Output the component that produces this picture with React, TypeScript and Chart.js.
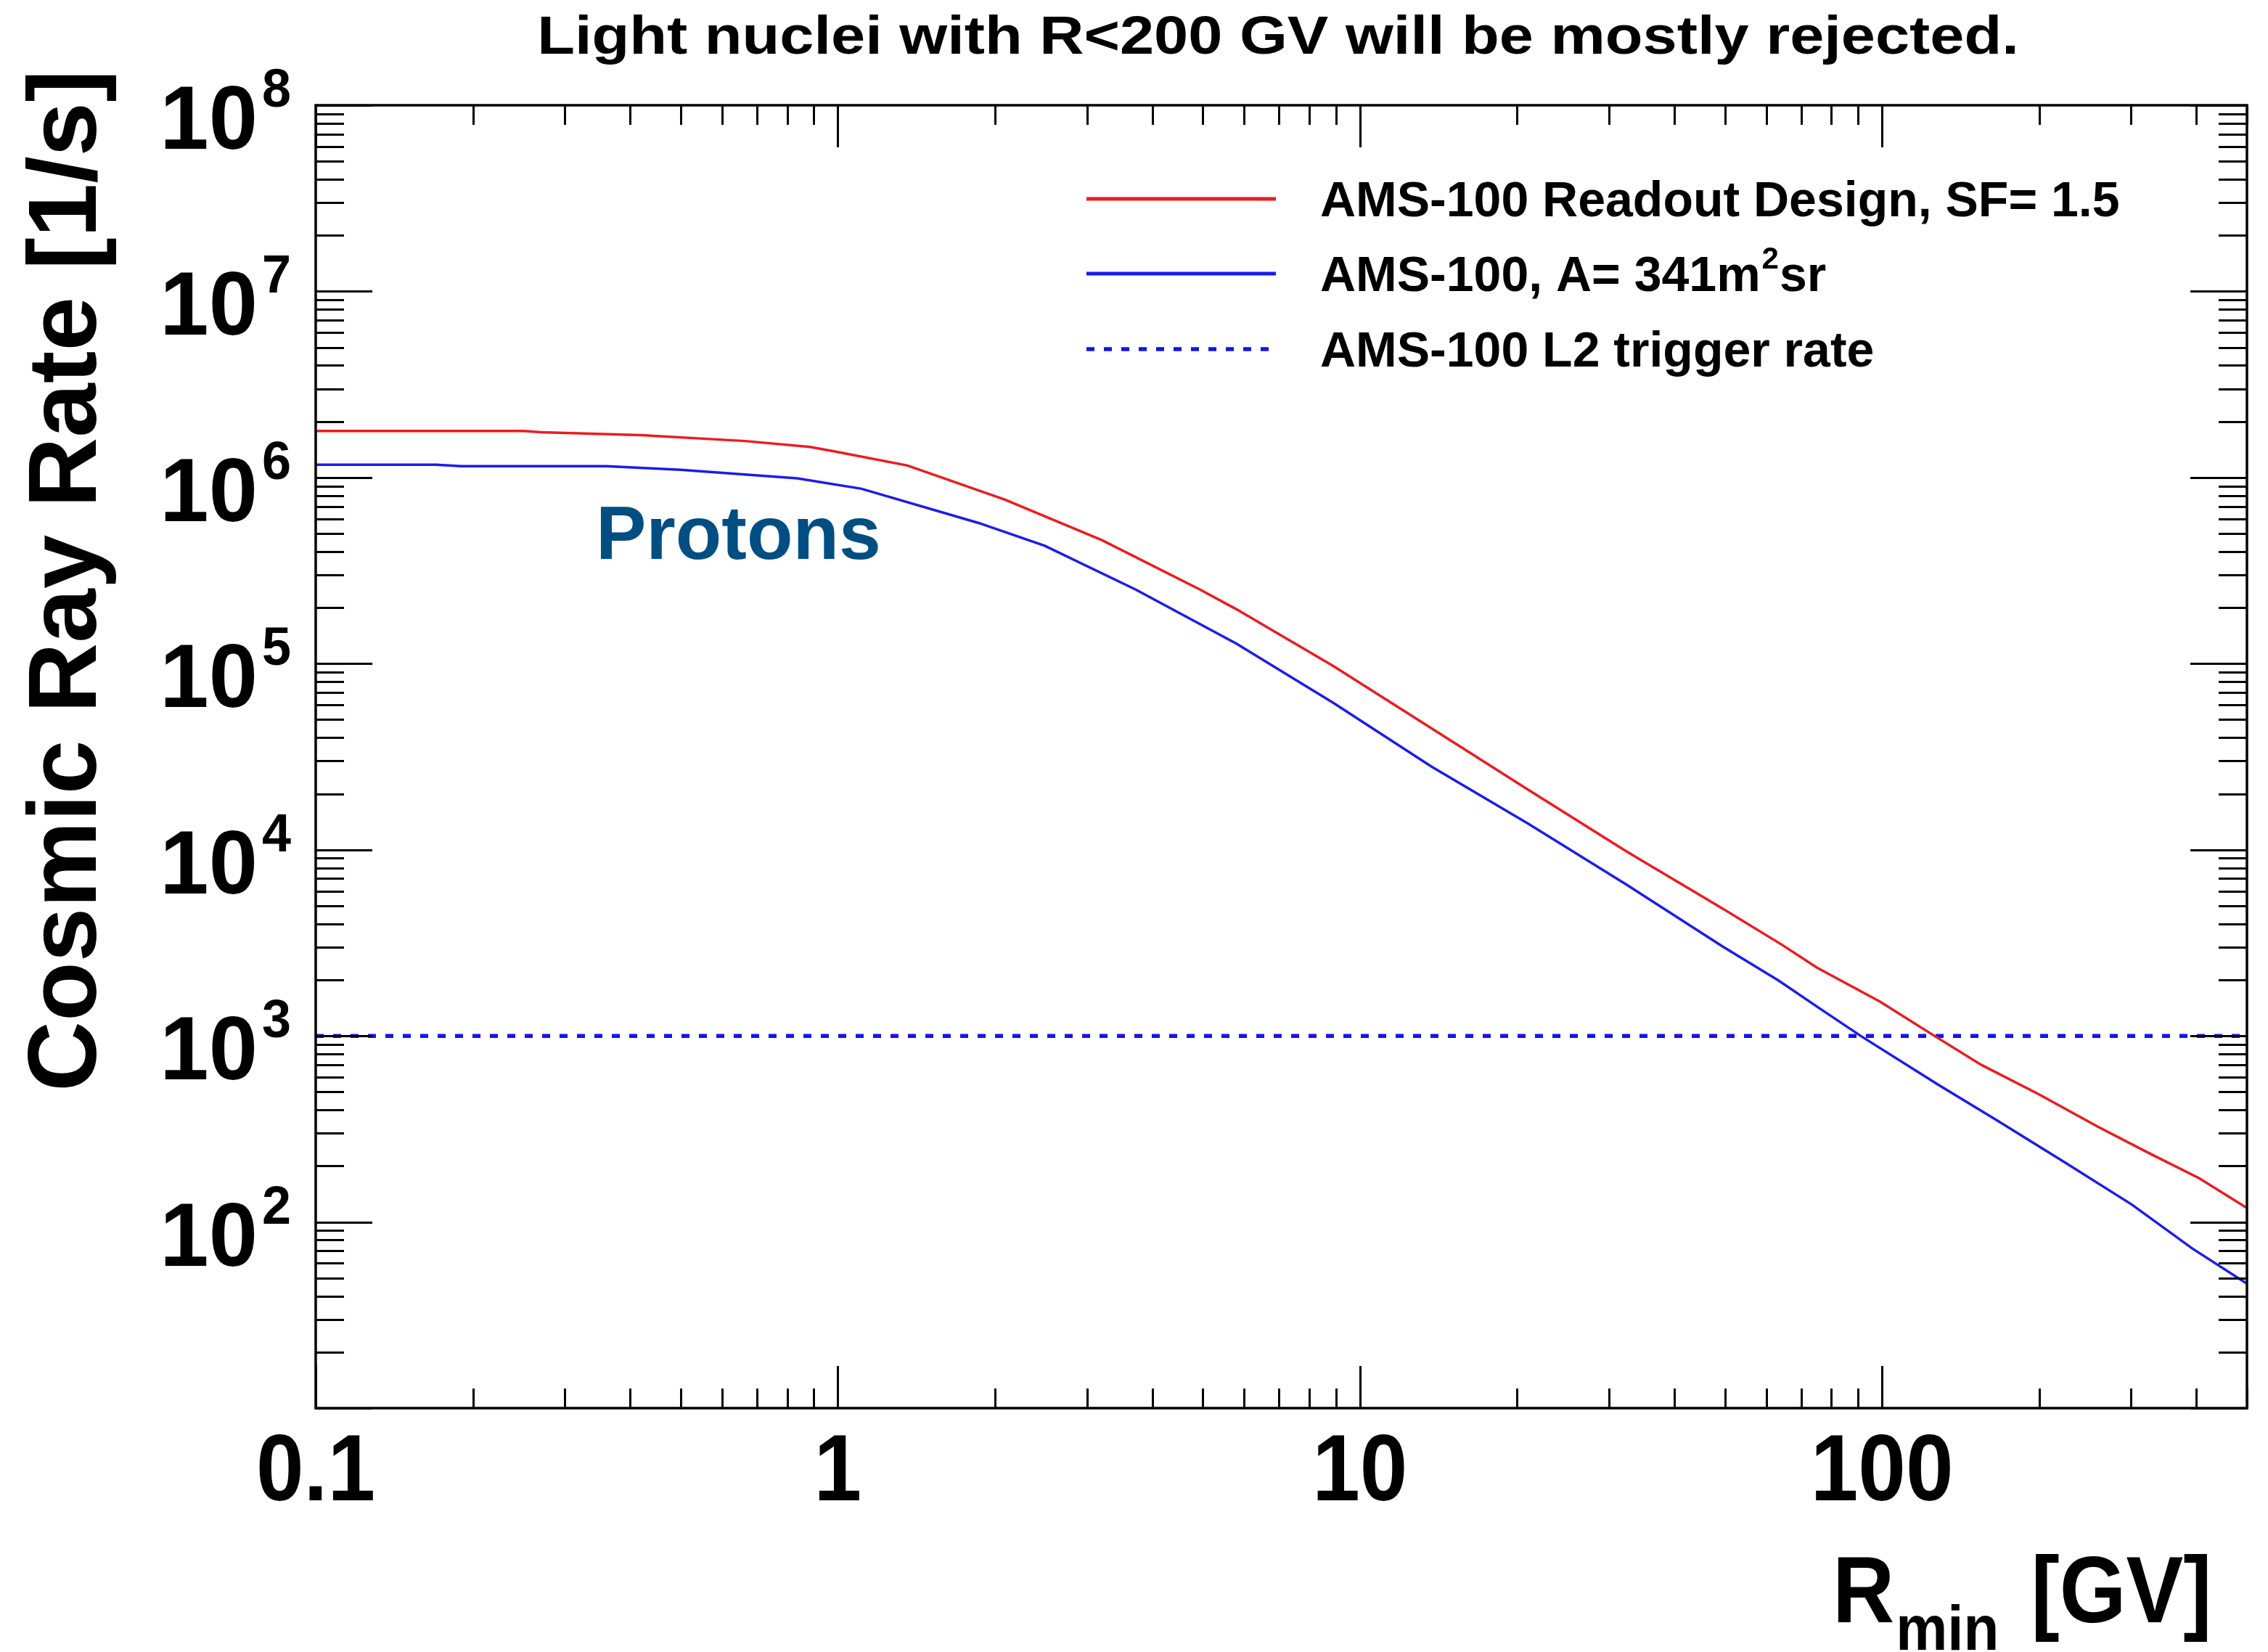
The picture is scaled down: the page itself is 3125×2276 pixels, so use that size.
import React, { useEffect, useRef } from "react";
import { Chart, registerables } from "chart.js";

Chart.register(...registerables);

// Rigidity cut-off [GV] and integrated rate [1/s] for the readout design (SF = 1.5)
const READOUT_RIGIDITY = [
  0.1, 0.25, 0.27, 0.42, 0.665, 0.885, 1.0, 1.36, 2.09, 3.21, 4.94, 5.8, 8.9, 13.7, 21, 32.4,
  49.7, 64.4, 75, 99, 126, 155, 199, 259, 324, 405, 500,
];
const READOUT_RATE = [
  1.78e6, 1.78e6, 1.75e6, 1.69e6, 1.57e6, 1.46e6, 1.37e6, 1.16e6, 7.6e5, 4.6e5, 2.5e5, 1.96e5,
  9.7e4, 4.5e4, 2.1e4, 9.8e3, 4.8e3, 3.08e3, 2.33e3, 1.53e3, 1.0e3, 698, 488, 325, 235, 172, 119,
];

// Rigidity cut-off [GV] and rate [1/s] for the bare acceptance A = 341 m^2 sr
const ACCEPTANCE_RIGIDITY = [
  0.1, 0.17, 0.19, 0.36, 0.5, 0.836, 1.11, 1.86, 2.49, 3.72, 5.8, 8.9, 13.7, 21, 32.4, 49.7, 63.4,
  75.8, 91, 128, 166, 224, 301, 393, 500,
];
const ACCEPTANCE_RATE = [
  1.17e6, 1.17e6, 1.15e6, 1.15e6, 1.1e6, 9.9e5, 8.7e5, 5.7e5, 4.3e5, 2.5e5, 1.28e5, 6.15e4, 2.8e4,
  1.38e4, 6.5e3, 3.0e3, 1.98e3, 1.41e3, 1.0e3, 547, 352, 209, 124, 72, 46.6,
];

// Level-2 trigger rate limit [1/s]
const TRIGGER_RIGIDITY = [0.1, 500];
const TRIGGER_RATE = [1000, 1000];

const SERIES_LABELS = [
  "AMS-100 Readout Design, SF= 1.5",
  "AMS-100, A= 341m²sr",
  "AMS-100 L2 trigger rate",
];

const X_MIN = 0.1;
const X_MAX = 500;
const Y_MIN = 10;
const Y_MAX = 1e8;
const X_TICK_VALUES = [0.1, 1, 10, 100];
const X_TICK_LABELS = ["0.1", "1", "10", "100"];
const Y_TICK_EXPONENTS = [2, 3, 4, 5, 6, 7, 8];

const TITLE = "Light nuclei with R<200 GV will be mostly rejected.";
const Y_TITLE = "Cosmic Ray Rate [1/s]";
const X_TITLE_MAIN = "R";
const X_TITLE_SUB = "min";
const X_TITLE_UNIT = "[GV]";
const ANNOTATION = "Protons";

const RED = "rgb(236, 28, 32)";
const BLUE = "rgb(28, 28, 236)";
const FONT = '"Liberation Sans", Arial, Helvetica, sans-serif';

type Seg = { text: string; size: number; dy?: number; gap?: number; sx?: number; sy?: number };

function drawSegs(
  ctx: CanvasRenderingContext2D,
  segs: Seg[],
  x: number,
  y: number,
  align: "left" | "right" | "center",
  color = "#000"
) {
  const widths = segs.map((s) => {
    ctx.font = `bold ${s.size}px ${FONT}`;
    return ctx.measureText(s.text).width * (s.sx ?? 1) + (s.gap ?? 0);
  });
  const total = widths.reduce((a, b) => a + b, 0);
  let cx = align === "left" ? x : align === "right" ? x - total : x - total / 2;
  segs.forEach((s, i) => {
    ctx.save();
    ctx.font = `bold ${s.size}px ${FONT}`;
    ctx.textAlign = "left";
    ctx.textBaseline = "alphabetic";
    ctx.fillStyle = color;
    ctx.translate(cx + (s.gap ?? 0), y + (s.dy ?? 0));
    ctx.scale(s.sx ?? 1, s.sy ?? 1);
    ctx.fillText(s.text, 0, 0);
    ctx.restore();
    cx += widths[i];
  });
}

const rootFramePlugin = {
  id: "rootFrame",
  afterDraw(chart: any) {
    const { ctx, chartArea: a, scales } = chart;
    const xs = scales.x;
    const ys = scales.y;
    ctx.save();

    // ticks on all four sides, pointing inwards
    ctx.strokeStyle = "#000";
    ctx.lineWidth = 3;
    ctx.beginPath();
    for (let e = -1; e <= 2; e++) {
      for (let m = 1; m <= 9; m++) {
        const v = m * Math.pow(10, e);
        if (v < X_MIN - 1e-9 || v > X_MAX + 1e-9) continue;
        const px = Math.round(xs.getPixelForValue(v)) + 0.5;
        const len = m === 1 ? 58 : 27;
        ctx.moveTo(px, a.bottom);
        ctx.lineTo(px, a.bottom - len);
        ctx.moveTo(px, a.top);
        ctx.lineTo(px, a.top + len);
      }
    }
    for (let e = 1; e <= 8; e++) {
      for (let m = 1; m <= 9; m++) {
        const v = m * Math.pow(10, e);
        if (v < Y_MIN || v > Y_MAX) continue;
        const py = Math.round(ys.getPixelForValue(v)) + 0.5;
        const len = m === 1 ? 78 : 39;
        ctx.moveTo(a.left, py);
        ctx.lineTo(a.left + len, py);
        ctx.moveTo(a.right, py);
        ctx.lineTo(a.right - len, py);
      }
    }
    ctx.stroke();

    // frame
    ctx.lineWidth = 3.5;
    ctx.strokeRect(a.left, a.top, a.right - a.left, a.bottom - a.top);

    // y tick labels 10^k
    Y_TICK_EXPONENTS.forEach((k) => {
      const py = ys.getPixelForValue(Math.pow(10, k));
      drawSegs(
        ctx,
        [
          { text: "10", size: 121, sy: 1.03, dy: 60 },
          { text: String(k), size: 72, sy: 1.03, dy: 2, gap: 6 },
        ],
        a.left - 34,
        py,
        "right"
      );
    });

    // x tick labels
    X_TICK_VALUES.forEach((v, i) => {
      const px = xs.getPixelForValue(v);
      drawSegs(ctx, [{ text: X_TICK_LABELS[i], size: 118, sy: 1.1 }], px, a.bottom + 127, "center");
    });

    // x axis title R_min [GV]
    drawSegs(
      ctx,
      [
        { text: X_TITLE_MAIN, size: 118, sy: 1.1 },
        { text: X_TITLE_SUB, size: 80, sy: 1.08, dy: 38, gap: 2 },
        { text: X_TITLE_UNIT, size: 118, sy: 1.1, gap: 44 },
      ],
      2525,
      a.bottom + 295,
      "left"
    );

    // y axis title
    ctx.save();
    ctx.translate(132, 800);
    ctx.rotate(-Math.PI / 2);
    drawSegs(ctx, [{ text: Y_TITLE, size: 134 }], 0, 0, "center");
    ctx.restore();

    // title
    drawSegs(ctx, [{ text: TITLE, size: 75, sx: 1.13 }], 1761, 74, "center");

    // annotation
    drawSegs(ctx, [{ text: ANNOTATION, size: 104 }], 821, 770, "left", "#004e82");

    // legend
    const rows = [274, 377, 481];
    chart.data.datasets.forEach((ds: any, i: number) => {
      const y = rows[i];
      ctx.save();
      ctx.strokeStyle = ds.borderColor;
      ctx.lineWidth = ds.borderDash && ds.borderDash.length ? ds.borderWidth : 5;
      ctx.setLineDash(ds.borderDash || []);
      ctx.beginPath();
      ctx.moveTo(1497, y);
      ctx.lineTo(1758, y);
      ctx.stroke();
      ctx.restore();
      const parts = String(ds.label).split("²");
      const segs: Seg[] = [{ text: parts[0], size: 68 }];
      if (parts.length > 1) {
        segs.push({ text: "2", size: 42, dy: -31, gap: 2 });
        segs.push({ text: parts[1], size: 68, gap: 1 });
      }
      drawSegs(ctx, segs, 1819, y + 24, "left");
    });

    ctx.restore();
  },
};

function points(xs: number[], ys: number[]) {
  return xs.map((x, i) => ({ x, y: ys[i] }));
}

export default function App() {
  const canvasRef = useRef<HTMLCanvasElement | null>(null);

  useEffect(() => {
    const canvas = canvasRef.current;
    if (!canvas) return;
    const chart = new Chart(canvas, {
      type: "line",
      data: {
        datasets: [
          {
            label: SERIES_LABELS[0],
            data: points(READOUT_RIGIDITY, READOUT_RATE),
            borderColor: RED,
            borderWidth: 3.5,
            pointRadius: 0,
            tension: 0,
          },
          {
            label: SERIES_LABELS[1],
            data: points(ACCEPTANCE_RIGIDITY, ACCEPTANCE_RATE),
            borderColor: BLUE,
            borderWidth: 3.5,
            pointRadius: 0,
            tension: 0,
          },
          {
            label: SERIES_LABELS[2],
            data: points(TRIGGER_RIGIDITY, TRIGGER_RATE),
            borderColor: "rgb(20, 20, 232)",
            borderWidth: 5.5,
            borderDash: [11, 13],
            borderCapStyle: "butt",
            pointRadius: 0,
            tension: 0,
          },
        ],
      },
      options: {
        responsive: false,
        maintainAspectRatio: false,
        devicePixelRatio: 1,
        animation: false,
        parsing: false as any,
        layout: { padding: { left: 435, top: 145, right: 29, bottom: 336 } },
        plugins: {
          legend: { display: false },
          title: { display: false },
          tooltip: { enabled: false },
        },
        scales: {
          x: { type: "logarithmic", min: X_MIN, max: X_MAX, display: false },
          y: { type: "logarithmic", min: Y_MIN, max: Y_MAX, display: false },
        },
      },
      plugins: [rootFramePlugin],
    });
    return () => chart.destroy();
  }, []);

  return (
    <div style={{ position: "absolute", left: 0, top: 0, width: 3125, height: 2276, background: "#fff" }}>
      <canvas ref={canvasRef} width={3125} height={2276} style={{ width: 3125, height: 2276, display: "block" }} />
    </div>
  );
}
